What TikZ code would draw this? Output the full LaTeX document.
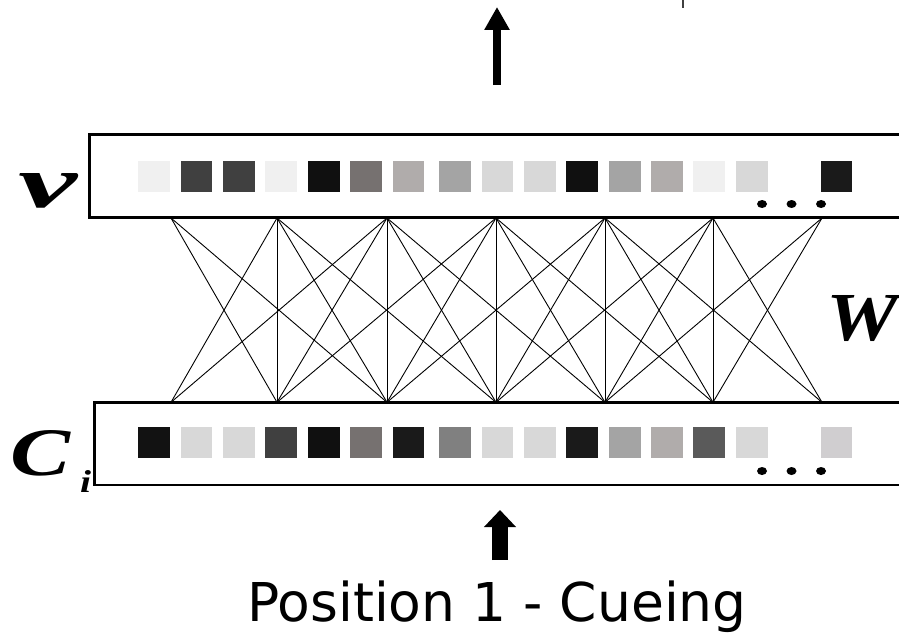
\documentclass[tikz,border=0pt]{standalone}
\usepackage{fontspec}
\usetikzlibrary{arrows.meta}
\newfontfamily\capfamily{DejaVu Sans}
\newfontfamily\varfamily{Liberation Serif}

\tikzset{
  layerbox/.style={draw=black, line width=2.7pt, fill=white, inner sep=0pt, outer sep=0pt,
                   minimum width=840pt, minimum height=83pt, anchor=north west},
  weight/.style={draw=black, line width=0.9pt},
  bigarrow/.style={draw=black, line cap=butt},
  labeltext/.style={inner sep=0pt, outer sep=0pt, anchor=north west,
                    font=\varfamily\bfseries\itshape},
  dotmark/.style={fill=black}
}

\begin{document}
\begin{tikzpicture}[x=1pt,y=-1pt]
\useasboundingbox (0,0) rectangle (899,634);

% the two layers
\node[layerbox] (vlayer) at (89.7,134.7) {};
\node[layerbox, minimum height=82.7pt] (clayer) at (94.7,402.3) {};

% unit activations of the output layer v
\foreach \x/\c in {154/F0F0F0,196.6/404040,239/404040,281/F0F0F0,324/101010,366/767170,
                   408.5/B0ACAB,455/A4A4A4,497.5/D8D8D8,540/D8D8D8,582/101010,625/A4A4A4,
                   667/B0ACAB,709/F0F0F0,752/D8D8D8,836.5/1A1A1A} {
  \definecolor{unitcol}{HTML}{\c}
  \fill[unitcol] (\x-15.6,161) rectangle (\x+15.6,192.3);
}
% unit activations of the cue layer c_i
\foreach \x/\c in {154/121212,196.6/D8D8D8,239/D8D8D8,281/404040,324/101010,366/767170,
                   408.5/1A1A1A,455/808080,497.5/D8D8D8,540/D8D8D8,582/1A1A1A,625/A4A4A4,
                   667/B0ACAB,709/5A5A5A,752/D8D8D8,836.5/D0CED0} {
  \definecolor{unitcol}{HTML}{\c}
  \fill[unitcol] (\x-15.6,427) rectangle (\x+15.6,458.3);
}

% ellipsis dots
\foreach \x in {762,791.5,821} {
  \fill[dotmark] (\x,204) ellipse (5pt and 4pt);
  \fill[dotmark] (\x,471) ellipse (5pt and 4pt);
}

% connection points on both layers
\foreach \i/\x in {1/171,2/277,3/387,4/496,5/605,6/713,7/822} {
  \coordinate (t\i) at (\x,218);
  \coordinate (b\i) at (\x,402.3);
}
% weight matrix W: each unit reaches its neighbours up to two steps away
\foreach \i in {1,...,7} {
  \foreach \j in {1,...,7} {
    \pgfmathtruncatemacro\ok{(abs(\i-\j)<3)*(1-(\i==\j)*((\i==1)+(\i==7)))}
    \ifnum\ok=1 \draw[weight] (t\i) -- (b\j); \fi
  }
}

% output arrow
\coordinate (outTail) at (497,85);
\coordinate (outTip) at (497,7);
\draw[bigarrow, line width=8pt, -{Triangle[width=24pt,length=23pt]}] (outTail) -- (outTip);

% input arrow
\coordinate (inTail) at (500,560);
\coordinate (inTip) at (500,510);
\draw[bigarrow, line width=16.7pt, -{Triangle[width=31pt,length=17pt]}] (inTail) -- (inTip);

% small tick at the top edge
\coordinate (tickA) at (683,0);
\coordinate (tickB) at (683,8);
\draw[black!75, line width=1.3pt] (tickA) -- (tickB);

% labels
\node[labeltext] (vlab) at (18,173) {\resizebox{59pt}{34pt}{v}};
\node[labeltext] (clab) at (10,430) {\resizebox{60pt}{45pt}{C}};
\node[labeltext] (ilab) at (80,470) {\resizebox{11pt}{22pt}{i}};
\node[labeltext] (wlab) at (826,295) {\resizebox{72pt}{45pt}{W}};

% caption
\node[inner sep=0pt, anchor=base, font=\capfamily\fontsize{53.5pt}{64pt}\selectfont]
  (caption) at (497,621) {Position 1 - Cueing};
\end{tikzpicture}
\end{document}
